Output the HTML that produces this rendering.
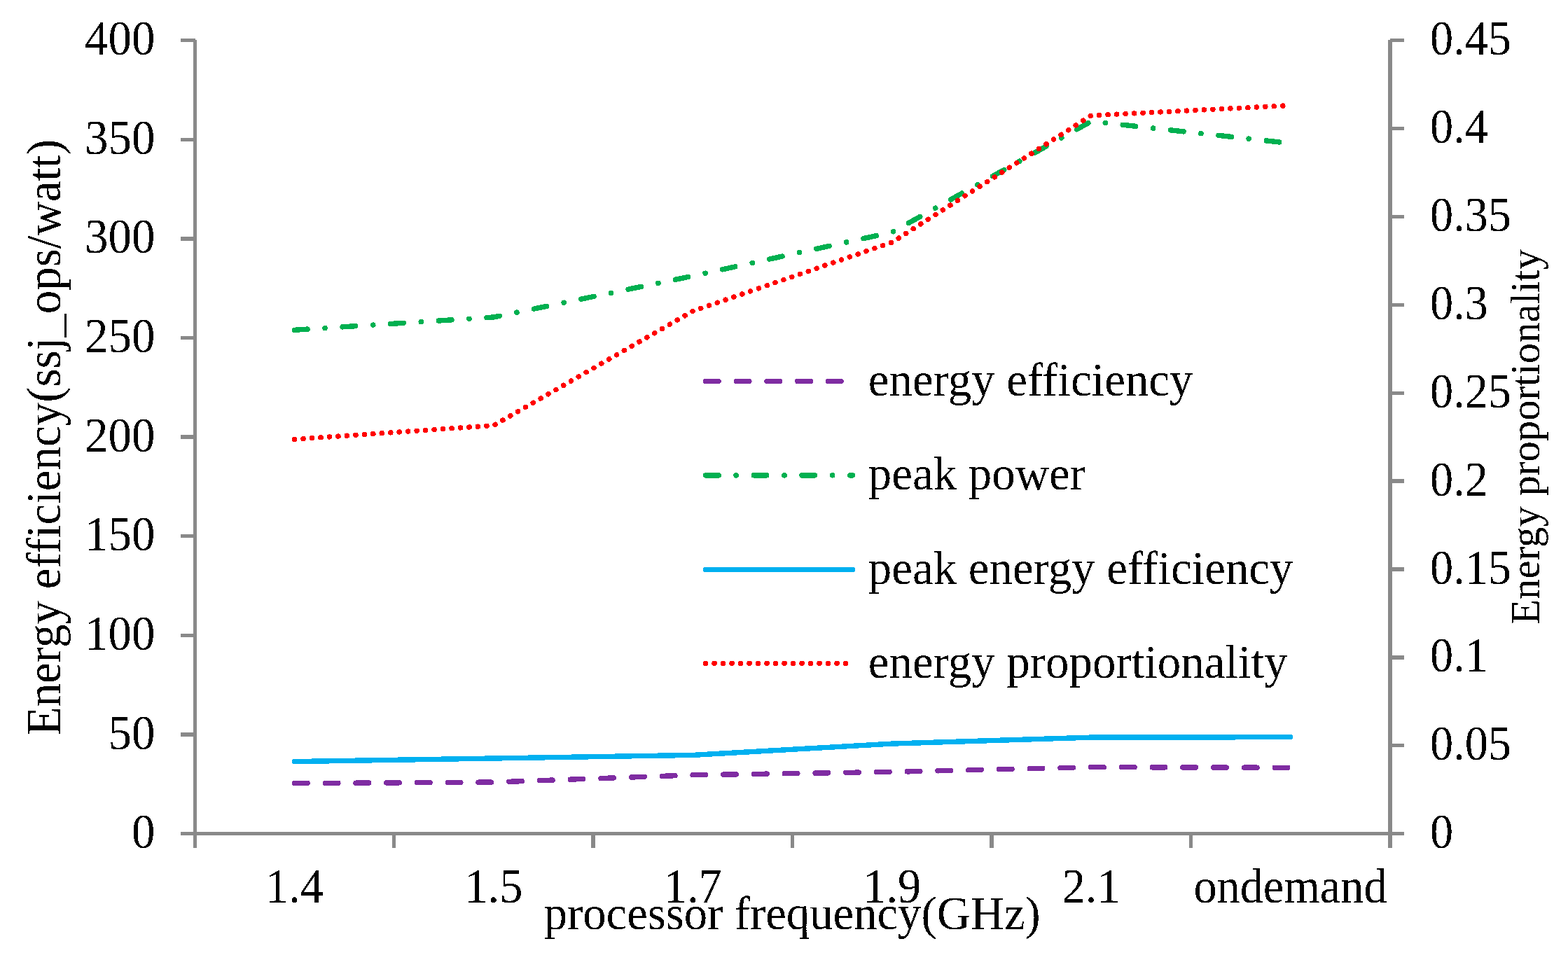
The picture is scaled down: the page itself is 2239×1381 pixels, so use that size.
<!DOCTYPE html>
<html lang="en">
<head>
<meta charset="utf-8">
<title>Energy efficiency and energy proportionality vs processor frequency</title>
<style>
html,body{margin:0;padding:0;background:#fff;}
body{width:2239px;height:1381px;overflow:hidden;}
figure{margin:0;width:2239px;height:1381px;}
svg{display:block;}
text{white-space:pre;}
</style>
</head>
<body>
<figure>
<svg width="2239" height="1381" viewBox="0 0 2239 1381">
<defs><filter id="crisp" filterUnits="userSpaceOnUse" x="0" y="0" width="2239" height="1381" color-interpolation-filters="sRGB"><feComponentTransfer><feFuncA type="discrete" tableValues="0 1"/></feComponentTransfer></filter></defs>
<rect class="background" width="2239" height="1381" fill="#fff"/>
<g class="axes" fill="#898989" shape-rendering="crispEdges">
<g class="axis axis-left">
<rect x="276" y="57" width="5" height="1154"/>
<rect x="258" y="55" width="21" height="5"/>
<rect x="258" y="197" width="21" height="5"/>
<rect x="258" y="338" width="21" height="6"/>
<rect x="258" y="480" width="21" height="5"/>
<rect x="258" y="621" width="21" height="6"/>
<rect x="258" y="763" width="21" height="5"/>
<rect x="258" y="905" width="21" height="5"/>
<rect x="258" y="1046" width="21" height="6"/>
</g>
<g class="axis axis-right">
<rect x="1982" y="57" width="6" height="1154"/>
<rect x="1985" y="55" width="20" height="5"/>
<rect x="1985" y="181" width="20" height="5"/>
<rect x="1985" y="307" width="20" height="5"/>
<rect x="1985" y="433" width="20" height="5"/>
<rect x="1985" y="559" width="20" height="5"/>
<rect x="1985" y="684" width="20" height="6"/>
<rect x="1985" y="810" width="20" height="6"/>
<rect x="1985" y="936" width="20" height="6"/>
<rect x="1985" y="1062" width="20" height="5"/>
</g>
<g class="axis axis-bottom">
<rect x="258" y="1188" width="1747" height="5"/>
<rect x="560" y="1190" width="5" height="21"/>
<rect x="844" y="1190" width="6" height="21"/>
<rect x="1129" y="1190" width="5" height="21"/>
<rect x="1413" y="1190" width="6" height="21"/>
<rect x="1698" y="1190" width="5" height="21"/>
</g>
</g>
<g class="labels" font-family='"Liberation Serif", serif' fill="#000" filter="url(#crisp)">
<g class="tick-labels tick-labels-left">
<text transform="translate(221.6 78.2) scale(0.9544 1)" font-size="70.2" text-anchor="end">400</text>
<text transform="translate(221.6 219.82) scale(0.9544 1)" font-size="70.2" text-anchor="end">350</text>
<text transform="translate(221.6 361.45) scale(0.9544 1)" font-size="70.2" text-anchor="end">300</text>
<text transform="translate(221.6 503.07) scale(0.9544 1)" font-size="70.2" text-anchor="end">250</text>
<text transform="translate(221.6 644.7) scale(0.9544 1)" font-size="70.2" text-anchor="end">200</text>
<text transform="translate(221.6 786.33) scale(0.9544 1)" font-size="70.2" text-anchor="end">150</text>
<text transform="translate(221.6 927.95) scale(0.9544 1)" font-size="70.2" text-anchor="end">100</text>
<text transform="translate(221.6 1069.58) scale(0.9544 1)" font-size="70.2" text-anchor="end">50</text>
<text transform="translate(221.6 1211.2) scale(0.9544 1)" font-size="70.2" text-anchor="end">0</text>
</g>
<g class="tick-labels tick-labels-right">
<text transform="translate(2042 78.2) scale(0.9444 1)" font-size="70.2" text-anchor="start">0.45</text>
<text transform="translate(2042 204.09) scale(0.9444 1)" font-size="70.2" text-anchor="start">0.4</text>
<text transform="translate(2042 329.98) scale(0.9444 1)" font-size="70.2" text-anchor="start">0.35</text>
<text transform="translate(2042 455.87) scale(0.9444 1)" font-size="70.2" text-anchor="start">0.3</text>
<text transform="translate(2042 581.76) scale(0.9444 1)" font-size="70.2" text-anchor="start">0.25</text>
<text transform="translate(2042 707.64) scale(0.9444 1)" font-size="70.2" text-anchor="start">0.2</text>
<text transform="translate(2042 833.53) scale(0.9444 1)" font-size="70.2" text-anchor="start">0.15</text>
<text transform="translate(2042 959.42) scale(0.9444 1)" font-size="70.2" text-anchor="start">0.1</text>
<text transform="translate(2042 1085.31) scale(0.9444 1)" font-size="70.2" text-anchor="start">0.05</text>
<text transform="translate(2042 1211.2) scale(0.9444 1)" font-size="70.2" text-anchor="start">0</text>
</g>
<g class="tick-labels category-labels">
<text transform="translate(420.5 1289.3) scale(0.9540 1)" font-size="69.5" text-anchor="middle">1.4</text>
<text transform="translate(704.9 1289.3) scale(0.9540 1)" font-size="69.5" text-anchor="middle">1.5</text>
<text transform="translate(989.3 1289.3) scale(0.9540 1)" font-size="69.5" text-anchor="middle">1.7</text>
<text transform="translate(1273.7 1289.3) scale(0.9540 1)" font-size="69.5" text-anchor="middle">1.9</text>
<text transform="translate(1558.1 1289.3) scale(0.9540 1)" font-size="69.5" text-anchor="middle">2.1</text>
<text transform="translate(1842.5 1289.3) scale(0.9540 1)" font-size="69.5" text-anchor="middle">ondemand</text>
</g>
<g class="axis-titles">
<text transform="translate(1131.2 1326.8) scale(0.9723 1)" font-size="68.6" text-anchor="middle">processor frequency(GHz)</text>
<text transform="translate(86 624.6) rotate(-90) scale(0.9668 1)" font-size="69.3" text-anchor="middle">Energy efficiency(ssj_ops/watt)</text>
<text transform="translate(2197.7 623.9) rotate(-90) scale(0.9966 1)" font-size="59" text-anchor="middle">Energy proportionality</text>
</g>
<g class="legend-labels">
<text transform="translate(1239.8 564.7) scale(0.9752 1)" font-size="68.6" text-anchor="start">energy efficiency</text>
<text transform="translate(1239.8 699.1) scale(0.9752 1)" font-size="68.6" text-anchor="start">peak power</text>
<text transform="translate(1239.8 833.7) scale(0.9752 1)" font-size="68.6" text-anchor="start">peak energy efficiency</text>
<text transform="translate(1239.8 967.5) scale(0.9752 1)" font-size="68.6" text-anchor="start">energy proportionality</text>
</g>
</g>
<g class="plot" fill="none" stroke-width="7.4" stroke-linecap="round" stroke-linejoin="round" shape-rendering="crispEdges">
<g class="series">
<polyline class="series-purple" points="420.5,1118.6 704.9,1117.1 989.3,1106.8 1273.7,1102.4 1558.1,1095.6 1842.5,1096.3" stroke="#7F2CA2" stroke-dasharray="18.6 25.15"></polyline>
<polyline class="series-green" points="420.5,471.3 704.9,453 989.3,394.1 1273.7,331.7 1558.1,173.3 1842.5,204.7" stroke="#00B050" stroke-dasharray="18.6 24.925 0.3 24.925"></polyline>
<polyline class="series-blue" points="420.5,1087.6 704.9,1083 989.3,1078.4 1273.7,1062.1 1558.1,1053.1 1842.5,1052.7" stroke="#00B0F0"></polyline>
<polyline class="series-red" points="420.5,627.4 704.9,607.6 989.3,444.3 1273.7,346.1 1558.1,165 1842.5,150.6" stroke="#FF0000" stroke-dasharray="0.2 12.3"></polyline>
</g>
<g class="legend-swatches">
<line x1="1007.5" y1="544.5" x2="1217.6" y2="544.5" stroke="#7F2CA2" stroke-dasharray="18.6 25.15"/>
<line x1="1007.5" y1="678.9" x2="1217.6" y2="678.9" stroke="#00B050" stroke-dasharray="18.6 24.925 0.3 24.925"/>
<line x1="1007.5" y1="813.5" x2="1217.6" y2="813.5" stroke="#00B0F0"/>
<line x1="1007.5" y1="947.3" x2="1217.6" y2="947.3" stroke="#FF0000" stroke-dasharray="0.2 12.3"/>
</g>
</g>
</svg>
</figure>
</body>
</html>
